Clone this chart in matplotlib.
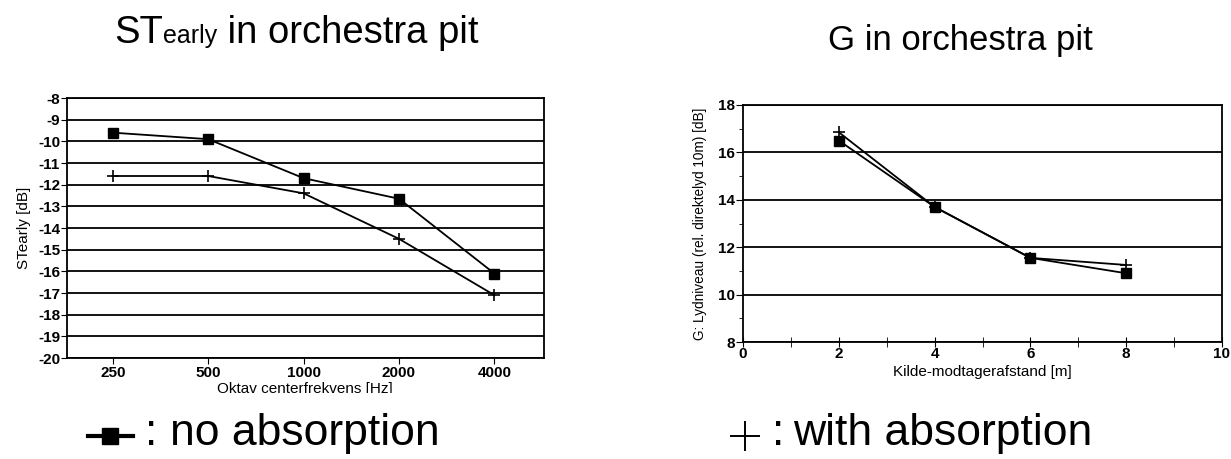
import matplotlib
matplotlib.use("Agg")
import matplotlib.pyplot as plt
from matplotlib.lines import Line2D
from matplotlib.offsetbox import TextArea, HPacker, AnchoredOffsetbox
from matplotlib.transforms import Bbox
from matplotlib.ticker import MultipleLocator

# data
freq_labels = ["250", "500", "1000", "2000", "4000"]
st_no_abs = [-9.6, -9.9, -11.7, -12.65, -16.1]
st_with_abs = [-11.6, -11.6, -12.4, -14.5, -17.1]

dist = [2, 4, 6, 8]
g_no_abs = [16.5, 13.7, 11.55, 10.9]
g_with_abs = [16.85, 13.7, 11.55, 11.25]

plt.rcParams['font.family'] = ['Liberation Sans', 'DejaVu Sans']
plt.rcParams['axes.unicode_minus'] = False

fig = plt.figure(figsize=(12.31, 4.59), dpi=100)
W, H = 1231, 459


def ax_px(l, t, r, b):
    return fig.add_axes([l / W, 1 - b / H, (r - l) / W, (b - t) / H])


# ---- left: ST early
ax1 = ax_px(67, 98, 544, 358)
x = range(len(freq_labels))
ax1.plot(x, st_no_abs, color='black', lw=1.3, marker='s', ms=7, zorder=3)
ax1.plot(x, st_with_abs, color='black', lw=1.3, marker='+', ms=8, mew=1.2, zorder=3)
ax1.set_xlim(-0.48, 4.52)
ax1.set_ylim(-20, -8)
ax1.set_yticks(range(-20, -7))
ax1.set_xticks(list(x))
ax1.set_xticklabels(freq_labels)
ax1.yaxis.grid(True, color='black', lw=1.3)
ax1.tick_params(axis='x', length=4, labelsize=11, pad=2)
ax1.tick_params(axis='y', length=4, labelsize=11, pad=1)
for lab in ax1.get_xticklabels() + ax1.get_yticklabels():
    lab.set_fontweight('bold')
for s in ax1.spines.values():
    s.set_linewidth(1.3)
ax1.set_ylabel("STearly [dB]", fontsize=11, labelpad=5)

# x label of the left chart is cut by the scan edge
xl = fig.text(305 / W, 1 - 382 / H, "Oktav centerfrekvens [Hz]", fontsize=11,
              ha='center', va='top')
xl.set_clip_box(Bbox.from_extents(0, H - 393, W, H))
xl.set_clip_on(True)

# ---- right: G
ax2 = ax_px(743, 105, 1222, 342)
ax2.plot(dist, g_no_abs, color='black', lw=1.3, marker='s', ms=7, zorder=3)
ax2.plot(dist, g_with_abs, color='black', lw=1.3, marker='+', ms=9, mew=1.2, zorder=3)
ax2.set_xlim(0, 10)
ax2.set_ylim(8, 18)
ax2.xaxis.set_major_locator(MultipleLocator(2))
ax2.xaxis.set_minor_locator(MultipleLocator(1))
ax2.yaxis.set_major_locator(MultipleLocator(2))
ax2.yaxis.set_minor_locator(MultipleLocator(1))
ax2.yaxis.grid(True, color='black', lw=1.3)
ax2.tick_params(axis='x', which='major', direction='inout', length=7, labelsize=11, pad=0)
ax2.tick_params(axis='x', which='minor', direction='inout', length=7)
ax2.tick_params(axis='y', which='major', direction='out', length=5, labelsize=11, pad=1)
ax2.tick_params(axis='y', which='minor', direction='out', length=3)
for lab in ax2.get_xticklabels() + ax2.get_yticklabels():
    lab.set_fontweight('bold')
for s in ax2.spines.values():
    s.set_linewidth(1.3)
ax2.set_ylabel("G: Lydniveau (rel. direktelyd 10m) [dB]", fontsize=9.8, labelpad=8)
ax2.set_xlabel("Kilde-modtagerafstand [m]", fontsize=11, labelpad=3)

# ---- titles
big = dict(fontsize=27.5)
title1 = HPacker(children=[TextArea("ST", textprops=big),
                           TextArea("early", textprops=dict(fontsize=18)),
                           TextArea(" in orchestra pit", textprops=big)],
                 align="baseline", pad=0, sep=0)
fig.add_artist(AnchoredOffsetbox(loc='center', child=title1, frameon=False,
                                 bbox_to_anchor=(296 / W, 1 - 33 / H),
                                 bbox_transform=fig.transFigure, pad=0, borderpad=0))
fig.text(828 / W, 1 - 50 / H, "G in orchestra pit", fontsize=25,
         ha='left', va='baseline')

# ---- legend lines at bottom
fig.add_artist(Line2D([88 / W, 110 / W, 133 / W], [1 - 436 / H] * 3, color='black',
                      lw=3, marker='s', ms=11, markevery=[1]))
fig.text(145 / W, 1 - 445 / H, ":", fontsize=32, ha='left', va='baseline')
fig.text(170 / W, 1 - 445 / H, "no absorption", fontsize=32, ha='left', va='baseline')
fig.add_artist(Line2D([745 / W], [1 - 436 / H], color='black', lw=0,
                      marker='+', ms=22, mew=1.4))
fig.text(772 / W, 1 - 445 / H, ":", fontsize=32, ha='left', va='baseline')
fig.text(793 / W, 1 - 445 / H, "with absorption", fontsize=32, ha='left', va='baseline')

fig.savefig("out.png", dpi=100)
